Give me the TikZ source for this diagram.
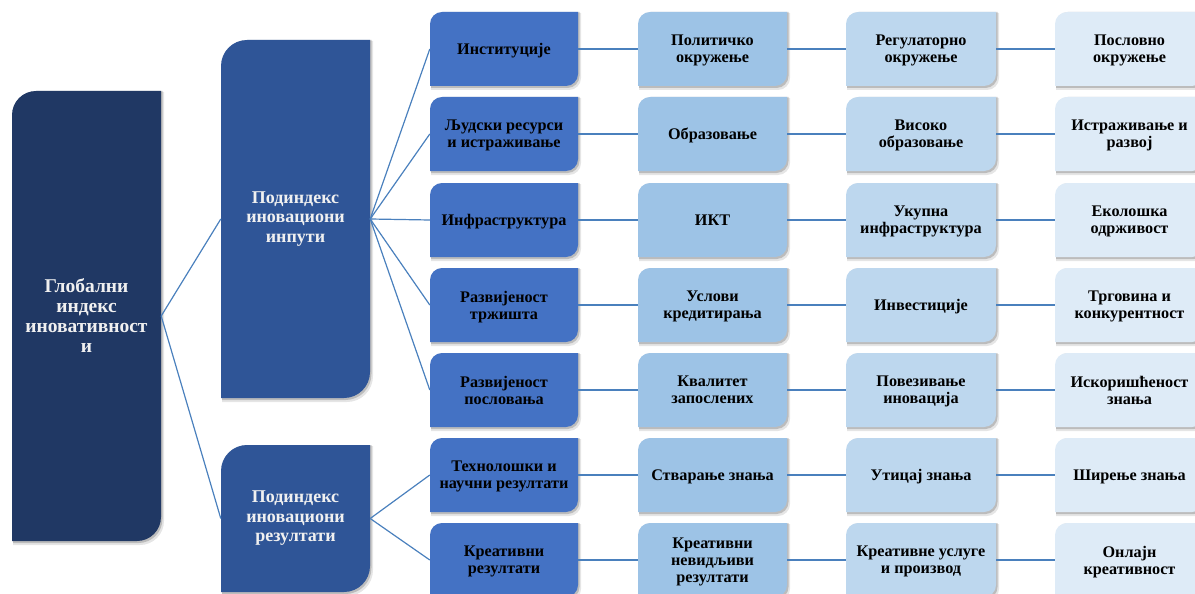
\documentclass[tikz,border=0pt]{standalone}
\usepackage{fontspec}
\setmainfont{Liberation Serif}
\definecolor{rootc}{HTML}{203864}
\definecolor{subc}{HTML}{2F5597}
\definecolor{lthree}{HTML}{4472C4}
\definecolor{lfour}{HTML}{9DC3E6}
\definecolor{lfive}{HTML}{BDD7EE}
\definecolor{lsix}{HTML}{DEEBF7}
\definecolor{linec}{HTML}{4A80BD}
\definecolor{lighttext}{HTML}{F0F0F0}
\newcommand\bx[9]{%
  \fill[black,opacity=0.10] (#2+1,-#5-4) -- (#2+1,-#3-#6-1) arc[start angle=180,end angle=90,radius=#6] -- (#4+3,-#3-1) -- (#4+3,-#5+#6-4) arc[start angle=0,end angle=-90,radius=#6] -- cycle;
  \fill[black,opacity=0.18] (#2+1,-#5-2) -- (#2+1,-#3-#6) arc[start angle=180,end angle=90,radius=#6] -- (#4+1.5,-#3) -- (#4+1.5,-#5+#6-2) arc[start angle=0,end angle=-90,radius=#6] -- cycle;
  \fill[#7] (#2,-#5) -- (#2,-#3-#6) arc[start angle=180,end angle=90,radius=#6] -- (#4,-#3) -- (#4,-#5+#6) arc[start angle=0,end angle=-90,radius=#6] -- cycle;
  \node[#8, minimum width={(#4-#2)*1pt}, minimum height={(#5-#3)*1pt}] (#1) at ({(#2+#4)/2},{-(#3+#5)/2}) {#9};
}
\begin{document}
\begin{tikzpicture}[x=1pt,y=1pt,
  bigtxt/.style={rectangle,inner sep=0pt,align=center,text=lighttext,font=\fontsize{19.5}{20}\selectfont\bfseries},
  subtxt/.style={rectangle,inner sep=0pt,align=center,text=lighttext,font=\fontsize{18}{19.5}\selectfont\bfseries},
  lvtxt/.style={rectangle,inner sep=0pt,text depth=0pt,align=center,text=black,font=\fontsize{16.2}{16.8}\selectfont\bfseries},
  conn/.style={draw=linec,line width=1.2pt}]
\useasboundingbox (0,0) rectangle (1195,-594);
\clip (0,0) rectangle (1195,-594);
% level 1 and 2
\bx{root}{12}{91}{161}{541}{24}{rootc}{bigtxt}{Глобални\\индекс\\иновативност\\и}
\bx{subin}{221}{40}{370}{398}{26}{subc}{subtxt}{Подиндекс\\иновациони\\инпути}
\bx{subout}{221}{445}{370}{592}{26}{subc}{subtxt}{Подиндекс\\иновациони\\резултати}
% row 1
\bx{a1}{430}{12}{578}{86}{12}{lthree}{lvtxt}{Институције}
\bx{b1}{638}{12}{787}{86}{12}{lfour}{lvtxt}{Политичко\\окружење}
\bx{c1}{846}{12}{996}{86}{12}{lfive}{lvtxt}{Регулаторно\\окружење}
\bx{d1}{1055}{12}{1204}{86}{12}{lsix}{lvtxt}{Пословно\\окружење}
% row 2
\bx{a2}{430}{97}{578}{171}{12}{lthree}{lvtxt}{Људски ресурси\\и истраживање}
\bx{b2}{638}{97}{787}{171}{12}{lfour}{lvtxt}{Образовање}
\bx{c2}{846}{97}{996}{171}{12}{lfive}{lvtxt}{Високо\\образовање}
\bx{d2}{1055}{97}{1204}{171}{12}{lsix}{lvtxt}{Истраживање и\\развој}
% row 3
\bx{a3}{430}{183}{578}{257}{12}{lthree}{lvtxt}{Инфраструктура}
\bx{b3}{638}{183}{787}{257}{12}{lfour}{lvtxt}{ИКТ}
\bx{c3}{846}{183}{996}{257}{12}{lfive}{lvtxt}{Укупна\\инфраструктура}
\bx{d3}{1055}{183}{1204}{257}{12}{lsix}{lvtxt}{Еколошка\\одрживост}
% row 4
\bx{a4}{430}{268}{578}{342}{12}{lthree}{lvtxt}{Развијеност\\тржишта}
\bx{b4}{638}{268}{787}{342}{12}{lfour}{lvtxt}{Услови\\кредитирања}
\bx{c4}{846}{268}{996}{342}{12}{lfive}{lvtxt}{Инвестиције}
\bx{d4}{1055}{268}{1204}{342}{12}{lsix}{lvtxt}{Трговина и\\конкурентност}
% row 5
\bx{a5}{430}{353}{578}{427}{12}{lthree}{lvtxt}{Развијеност\\пословања}
\bx{b5}{638}{353}{787}{427}{12}{lfour}{lvtxt}{Квалитет\\запослених}
\bx{c5}{846}{353}{996}{427}{12}{lfive}{lvtxt}{Повезивање\\иновација}
\bx{d5}{1055}{353}{1204}{427}{12}{lsix}{lvtxt}{Искоришћеност\\знања}
% row 6
\bx{a6}{430}{438}{578}{512}{12}{lthree}{lvtxt}{Технолошки и\\научни резултати}
\bx{b6}{638}{438}{787}{512}{12}{lfour}{lvtxt}{Стварање знања}
\bx{c6}{846}{438}{996}{512}{12}{lfive}{lvtxt}{Утицај знања}
\bx{d6}{1055}{438}{1204}{512}{12}{lsix}{lvtxt}{Ширење знања}
% row 7
\bx{a7}{430}{523}{578}{597}{12}{lthree}{lvtxt}{Креативни\\резултати}
\bx{b7}{638}{523}{787}{597}{12}{lfour}{lvtxt}{Креативни\\невидљиви\\резултати}
\bx{c7}{846}{523}{996}{597}{12}{lfive}{lvtxt}{Креативне услуге\\и производ}
\bx{d7}{1055}{523}{1204}{597}{12}{lsix}{lvtxt}{Онлајн\\креативност}
% connectors
\draw[conn] (root.east) -- (subin.west);
\draw[conn] (root.east) -- (subout.west);
\foreach \r in {1,...,5} {\draw[conn] (subin.east) -- (a\r.west);}
\foreach \r in {6,7} {\draw[conn] (subout.east) -- (a\r.west);}
\foreach \r in {1,...,7} {
  \draw[conn] (a\r.east) -- (b\r.west);
  \draw[conn] (b\r.east) -- (c\r.west);
  \draw[conn] (c\r.east) -- (d\r.west);
}
\end{tikzpicture}
\end{document}
